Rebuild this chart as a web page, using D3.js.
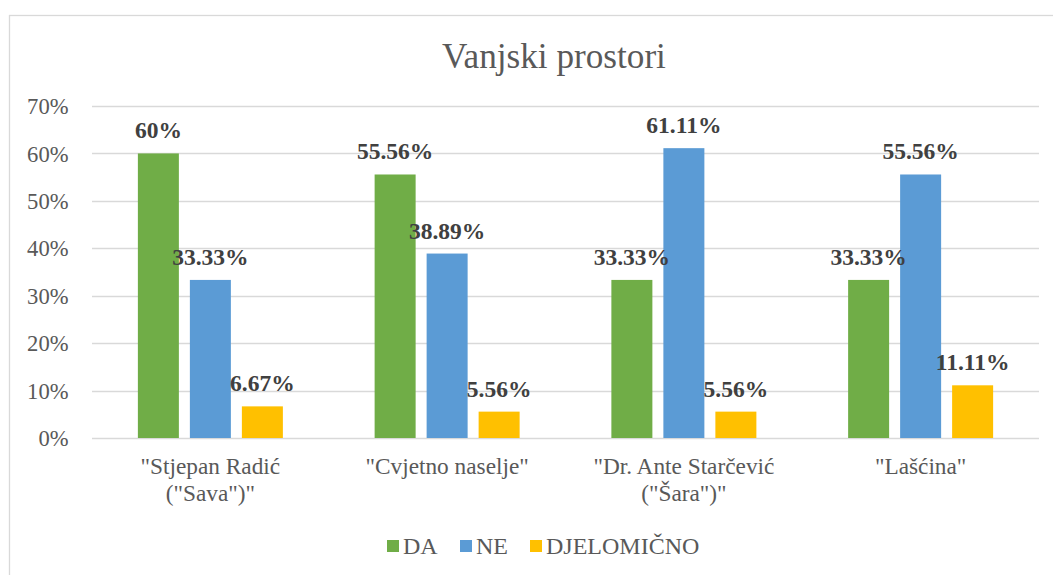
<!DOCTYPE html>
<html>
<head>
<meta charset="utf-8">
<script src="https://cdn.jsdelivr.net/npm/d3@7"></script>
<style>
  html, body { margin: 0; padding: 0; background: #fff; }
  svg { display: block; }
</style>
</head>
<body>
<div id="chart"></div>
<script>
// Survey results: outdoor spaces per kindergarten
const categories = [["\"Stjepan Radić", "(\"Sava\")\""], ["\"Cvjetno naselje\""], ["\"Dr. Ante Starčević", "(\"Šara\")\""], ["\"Lašćina\""]];
const seriesNames = ["DA", "NE", "DJELOMIČNO"];
const valuesDA = [60, 55.56, 33.33, 33.33];
const valuesNE = [33.33, 38.89, 61.11, 55.56];
const valuesDjelomicno = [6.67, 5.56, 5.56, 11.11];
const yTicks = [0, 10, 20, 30, 40, 50, 60, 70];
const title = "Vanjski prostori";

const colors = { "DA": "#70AD47", "NE": "#5B9BD5", "DJELOMIČNO": "#FFC000" };
const seriesValues = [valuesDA, valuesNE, valuesDjelomicno];
const FONT = "'Liberation Serif'";

const W = 1053, H = 575;
const svg = d3.select("#chart").append("svg").attr("width", W).attr("height", H);

// chart frame
svg.append("rect").attr("x", 9.5).attr("y", 15.5).attr("width", 1100).attr("height", 600)
  .attr("fill", "#fff").attr("stroke", "#D9D9D9").attr("stroke-width", 1.3);

const plot = { left: 92, right: 1039, top: 106, bottom: 438 };

const catKeys = categories.map((c, i) => i);
const x0 = d3.scaleBand().domain(catKeys).range([plot.left, plot.right]).padding(0);
const clusterW = 145;
const x1 = d3.scaleBand().domain(seriesNames).range([0, clusterW]).paddingInner(11 / 52).paddingOuter(0);
const y = d3.scaleLinear().domain([0, 70]).range([plot.bottom, plot.top]);

// gridlines
const grid = svg.append("g");
grid.selectAll("line").data(yTicks).join("line")
  .attr("x1", plot.left).attr("x2", plot.right)
  .attr("y1", d => Math.round(y(d)) + 0.5).attr("y2", d => Math.round(y(d)) + 0.5)
  .attr("stroke", "#D9D9D9").attr("stroke-width", 1.3);

// y axis labels
const yAxis = d3.axisLeft(y).tickValues(yTicks).tickFormat(d => d + "%").tickSize(0).tickPadding(0);
const yg = svg.append("g").attr("transform", `translate(${plot.left - 23.5},0)`).call(yAxis);
yg.select(".domain").remove();
yg.selectAll("text").attr("font-size", 22.6).attr("fill", "#595959").attr("dy", "0.34em")
  .style("font-family", FONT);

// bars
const fmt = d3.format(".2~f");
const rows = [];
catKeys.forEach(ci => {
  seriesNames.forEach((s, si) => rows.push({ ci, s, v: seriesValues[si][ci] }));
});
const barX = d => x0(d.ci) + (x0.bandwidth() - clusterW) / 2 + x1(d.s);

svg.append("g").selectAll("rect").data(rows).join("rect")
  .attr("x", barX)
  .attr("y", d => y(d.v))
  .attr("width", x1.bandwidth())
  .attr("height", d => y(0) - y(d.v))
  .attr("fill", d => colors[d.s]);

// value labels
svg.append("g").selectAll("text").data(rows).join("text")
  .attr("x", d => barX(d) + x1.bandwidth() / 2)
  .attr("y", d => y(d.v) - 15)
  .attr("text-anchor", "middle")
  .attr("font-size", 23.5).attr("font-weight", "bold").attr("fill", "#404040")
  .style("font-family", FONT)
  .text(d => fmt(d.v) + "%");

// category labels
const cg = svg.append("g").selectAll("text").data(catKeys).join("text")
  .attr("text-anchor", "middle")
  .attr("font-size", 23.3).attr("fill", "#595959")
  .style("font-family", FONT)
  .attr("transform", d => `translate(${x0(d) + x0.bandwidth() / 2},474)`);
cg.selectAll("tspan").data(d => categories[d]).join("tspan")
  .attr("x", 0).attr("dy", (d, i) => i === 0 ? 0 : 27).text(d => d);

// title
svg.append("text").attr("x", 554).attr("y", 68).attr("text-anchor", "middle")
  .attr("font-size", 35.2).attr("fill", "#595959").style("font-family", FONT).text(title);

// legend
const legendX = [387, 460, 530];
const lg = svg.append("g").selectAll("g").data(seriesNames).join("g")
  .attr("transform", (d, i) => `translate(${legendX[i]},540)`);
lg.append("rect").attr("width", 12).attr("height", 12).attr("fill", d => colors[d]);
lg.append("text").attr("x", 16).attr("y", 13.5).attr("font-size", 24).attr("fill", "#595959")
  .style("font-family", FONT).text(d => d);
</script>
</body>
</html>
